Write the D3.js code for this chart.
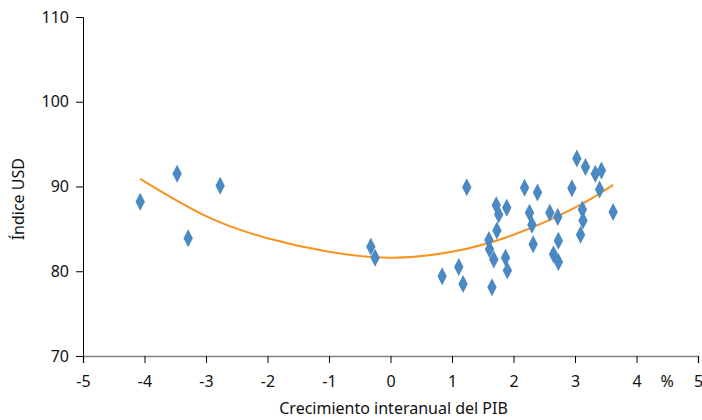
<!DOCTYPE html>
<meta charset="utf-8">
<style>
body { margin: 0; background: #fff; }
svg text { font-family: "Noto Sans", "Open Sans", sans-serif; fill: #111; }
</style>
<body>
<script src="https://cdn.jsdelivr.net/npm/d3@7"></script>
<script>

// scatter points (GDP growth %, USD index)
var growth = [-4.07, -3.47, -3.29, -2.77, -0.32, -0.25,
  1.24, 0.84, 1.11, 1.18, 1.65, 1.60, 1.61, 1.68, 1.72, 1.76, 1.73, 1.89, 1.87, 1.90,
  2.18, 2.39, 2.26, 2.30, 2.32, 2.59, 2.72, 2.73, 2.65, 2.73,
  2.95, 3.03, 3.17, 3.33, 3.43, 3.40, 3.12, 3.13, 3.09, 3.62];
var usdIndex = [88.2, 91.5, 83.9, 90.1, 82.9, 81.6,
  89.9, 79.4, 80.5, 78.5, 78.1, 83.7, 82.6, 81.4, 87.8, 86.7, 84.8, 87.5, 81.6, 80.1,
  89.85, 89.3, 86.9, 85.5, 83.2, 86.9, 86.4, 83.6, 82.0, 81.1,
  89.8, 93.3, 92.3, 91.5, 91.9, 89.65, 87.3, 86.0, 84.3, 87.0];

// trend line
var trendX = [-4.07, -3, -2, -1, 0, 1, 2, 3, 3.62];
var trendY = [90.9, 86.5, 83.9, 82.3, 81.6, 82.3, 84.3, 87.5, 90.2];

var xTicks = [-5, -4, -3, -2, -1, 0, 1, 2, 3, 4, 5];
var yTicks = [70, 80, 90, 100, 110];

var margin = {top: 17, right: 4, bottom: 64, left: 83},
    width = 702 - margin.left - margin.right,
    height = 420 - margin.top - margin.bottom;

var svg = d3.select("body").append("svg")
    .attr("width", 702)
    .attr("height", 420)
  .append("g")
    .attr("transform", "translate(" + margin.left + "," + margin.top + ")");

var x = d3.scaleLinear().domain([-5, 5]).range([0, 615]);
var y = d3.scaleLinear().domain([70, 110]).range([height, 0]);

// y axis
var yAxis = svg.append("g")
    .call(d3.axisLeft(y).tickValues(yTicks).tickSize(7).tickPadding(7));
yAxis.select(".domain").attr("stroke", "#000");
yAxis.selectAll("text").style("font-size", "16px").attr("fill", "#111");

// x axis
var xAxis = svg.append("g")
    .attr("transform", "translate(0," + height + ")")
    .call(d3.axisBottom(x).tickValues(xTicks).tickSize(7).tickPadding(13)
      .tickFormat(function(d) { return d; }));
xAxis.select(".domain").attr("stroke", "#808080").attr("stroke-width", 1.5);
xAxis.selectAll("text").style("font-size", "16px").attr("fill", "#111");

svg.append("text")
    .attr("x", x(4.5))
    .attr("y", height + 20)
    .attr("dy", "0.71em")
    .style("text-anchor", "middle")
    .style("font-size", "16px")
    .text("%");

// trend line
var line = d3.line()
    .x(function(d) { return x(d[0]); })
    .y(function(d) { return y(d[1]); })
    .curve(d3.curveNatural);

svg.append("path")
    .datum(d3.zip(trendX, trendY))
    .attr("fill", "none")
    .attr("stroke", "#f7931e")
    .attr("stroke-width", 2)
    .attr("d", line);

// diamonds
var diamond = "M0,-9L4.7,0L0,9L-4.7,0Z";
svg.selectAll(".pt")
    .data(d3.zip(growth, usdIndex))
    .enter().append("path")
    .attr("class", "pt")
    .attr("d", diamond)
    .attr("fill", "#4a89c3")
    .attr("transform", function(d) { return "translate(" + x(d[0]) + "," + y(d[1]) + ")"; });

// titles
svg.append("text")
    .attr("x", x(0.05))
    .attr("y", height + 58)
    .style("text-anchor", "middle")
    .style("font-size", "16px")
    .text("Crecimiento interanual del PIB");

svg.append("text")
    .attr("transform", "translate(" + (-margin.left + 24) + "," + y(88.5) + ") rotate(-90)")
    .style("text-anchor", "middle")
    .style("font-size", "16px")
    .text("Índice USD");

</script>
</body>
